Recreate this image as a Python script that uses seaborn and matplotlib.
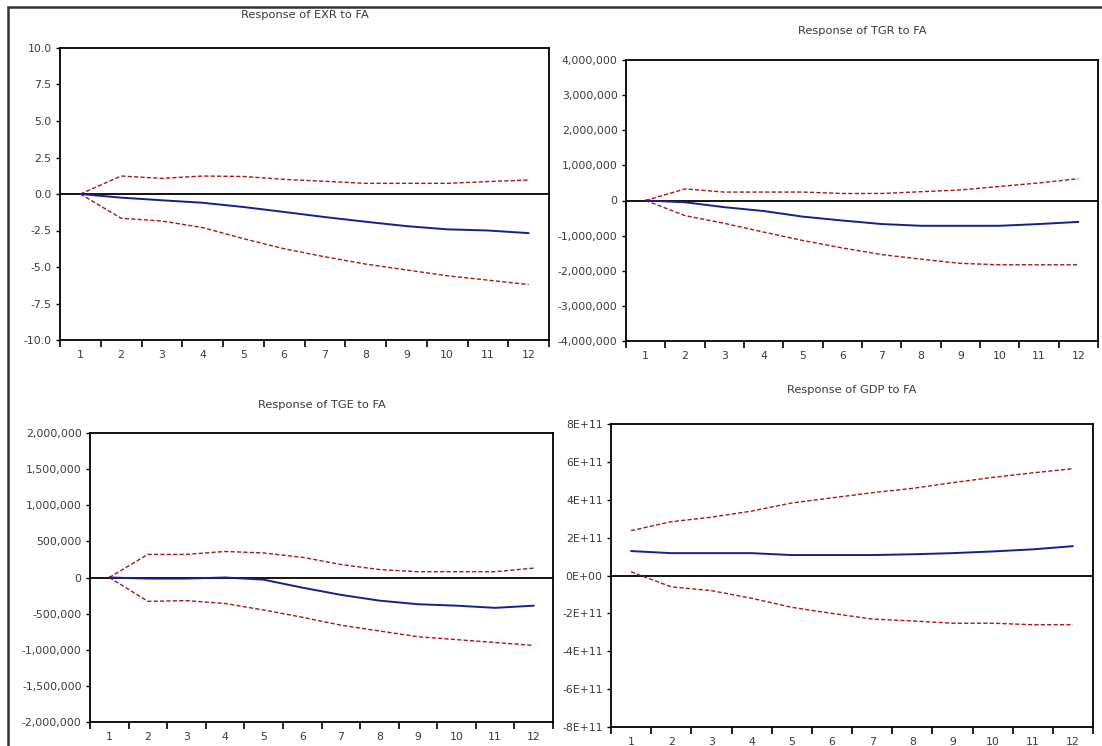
import numpy as np
import pandas as pd
import matplotlib
matplotlib.use("Agg")
import matplotlib.pyplot as plt
import seaborn as sns
from matplotlib.patches import Rectangle

sns.set_style("white")
plt.rcParams['font.family'] = ['DejaVu Sans']

periods = list(range(1, 13))

# Response of EXR to FA
exr_resp = [0.0, -0.25, -0.43, -0.60, -0.89, -1.23, -1.58, -1.90, -2.20, -2.42, -2.50, -2.68]
exr_up = [0.0, 1.23, 1.07, 1.23, 1.20, 1.00, 0.87, 0.73, 0.73, 0.73, 0.85, 0.96]
exr_lo = [0.0, -1.66, -1.85, -2.30, -3.06, -3.75, -4.30, -4.80, -5.20, -5.60, -5.90, -6.20]

# Response of TGR to FA
tgr_resp = [0, -50000, -190000, -300000, -460000, -570000, -670000, -720000, -720000, -720000, -670000, -610000]
tgr_up = [0, 330000, 240000, 240000, 240000, 200000, 200000, 250000, 300000, 400000, 500000, 620000]
tgr_lo = [0, -430000, -650000, -900000, -1140000, -1350000, -1540000, -1670000, -1790000, -1830000, -1830000, -1830000]

# Response of TGE to FA
tge_resp = [0, -15000, -15000, 0, -30000, -140000, -240000, -320000, -370000, -390000, -420000, -390000]
tge_up = [0, 320000, 320000, 360000, 340000, 280000, 180000, 110000, 80000, 80000, 80000, 130000]
tge_lo = [0, -330000, -320000, -360000, -450000, -550000, -660000, -740000, -820000, -860000, -900000, -940000]

# Response of GDP to FA
gdp_resp = [1.29e11, 1.18e11, 1.18e11, 1.18e11, 1.08e11, 1.08e11, 1.08e11, 1.12e11, 1.18e11, 1.27e11, 1.38e11, 1.55e11]
gdp_up = [2.37e11, 2.84e11, 3.08e11, 3.40e11, 3.83e11, 4.10e11, 4.37e11, 4.60e11, 4.90e11, 5.18e11, 5.42e11, 5.64e11]
gdp_lo = [0.19e11, -0.60e11, -0.80e11, -1.20e11, -1.68e11, -2.00e11, -2.30e11, -2.40e11, -2.52e11, -2.52e11, -2.60e11, -2.60e11]

titles = ["Response of EXR to FA", "Response of TGR to FA",
          "Response of TGE to FA", "Response of GDP to FA"]

exr_ticks = [-10.0, -7.5, -5.0, -2.5, 0.0, 2.5, 5.0, 7.5, 10.0]
exr_labels = ["-10.0", "-7.5", "-5.0", "-2.5", "0.0", "2.5", "5.0", "7.5", "10.0"]
tgr_ticks = [-4e6, -3e6, -2e6, -1e6, 0, 1e6, 2e6, 3e6, 4e6]
tgr_labels = ["-4,000,000", "-3,000,000", "-2,000,000", "-1,000,000", "0",
              "1,000,000", "2,000,000", "3,000,000", "4,000,000"]
tge_ticks = [-2e6, -1.5e6, -1e6, -5e5, 0, 5e5, 1e6, 1.5e6, 2e6]
tge_labels = ["-2,000,000", "-1,500,000", "-1,000,000", "-500,000", "0",
              "500,000", "1,000,000", "1,500,000", "2,000,000"]
gdp_ticks = [-8e11, -6e11, -4e11, -2e11, 0, 2e11, 4e11, 6e11, 8e11]
gdp_labels = ["-8E+11", "-6E+11", "-4E+11", "-2E+11", "0E+00",
              "2E+11", "4E+11", "6E+11", "8E+11"]

W, H = 1102, 746
fig = plt.figure(figsize=(W / 100, H / 100), dpi=100)
fig.patch.set_facecolor("white")

# outer frame (left + top visible)
fig.patches.append(Rectangle((8 / W, -0.01), 1.2, 1 - 7 / H + 0.01, transform=fig.transFigure,
                             fill=False, edgecolor="#333333", linewidth=1.8))

# axes boxes in pixels: left, top, right, bottom
boxes = [(60, 48, 549, 340), (626, 60, 1098, 341), (90, 433, 553, 722), (611, 424, 1093, 727)]
title_y = [15, 31, 405, 390]

panels = [
    (exr_resp, exr_up, exr_lo, exr_ticks, exr_labels),
    (tgr_resp, tgr_up, tgr_lo, tgr_ticks, tgr_labels),
    (tge_resp, tge_up, tge_lo, tge_ticks, tge_labels),
    (gdp_resp, gdp_up, gdp_lo, gdp_ticks, gdp_labels),
]

blue = "#1c1c8a"
red = "#a8141e"
txt = "#3a3a3a"

for i, (resp, up, lo, yt, yl) in enumerate(panels):
    l, t, r, b = boxes[i]
    ax = fig.add_axes([l / W, 1 - b / H, (r - l) / W, (b - t) / H])
    df = pd.DataFrame({
        "period": periods * 3,
        "value": list(resp) + list(up) + list(lo),
        "series": ["resp"] * 12 + ["up"] * 12 + ["lo"] * 12,
    })
    ax.axhline(0, color="black", lw=1.3, zorder=1)
    sns.lineplot(data=df[df.series == "up"], x="period", y="value", ax=ax,
                 color=red, lw=1.0, linestyle=(0, (3, 1.6)), zorder=2)
    sns.lineplot(data=df[df.series == "lo"], x="period", y="value", ax=ax,
                 color=red, lw=1.0, linestyle=(0, (3, 1.6)), zorder=2)
    sns.lineplot(data=df[df.series == "resp"], x="period", y="value", ax=ax,
                 color=blue, lw=1.4, zorder=3)
    ax.set_xlim(0.5, 12.5)
    ax.set_ylim(yt[0], yt[-1])
    ax.set_yticks(yt)
    ax.set_yticklabels(yl)
    ax.set_xticks([p + 0.5 for p in [0] + periods])
    ax.set_xticklabels([])
    ax.set_xticks(periods, minor=True)
    ax.set_xticklabels([str(p) for p in periods], minor=True)
    ax.tick_params(axis="x", which="major", direction="out", length=5, width=1.2,
                   color="black", bottom=True)
    ax.tick_params(axis="x", which="minor", length=0, pad=7, labelsize=7.8,
                   labelcolor=txt, bottom=True)
    ax.tick_params(axis="y", direction="out", length=3, width=1.0, color="black",
                   left=True, labelsize=7.8, labelcolor=txt, pad=3)
    ax.set_xlabel("")
    ax.set_ylabel("")
    for s in ax.spines.values():
        s.set_visible(True)
        s.set_color("black")
        s.set_linewidth(1.3)
    ax.grid(False)
    ax.set_facecolor("white")
    fig.text((l + r) / 2 / W, 1 - title_y[i] / H, titles[i], ha="center", va="center",
             fontsize=8.2, color=txt)

fig.savefig("out.png", dpi=100, facecolor="white")
